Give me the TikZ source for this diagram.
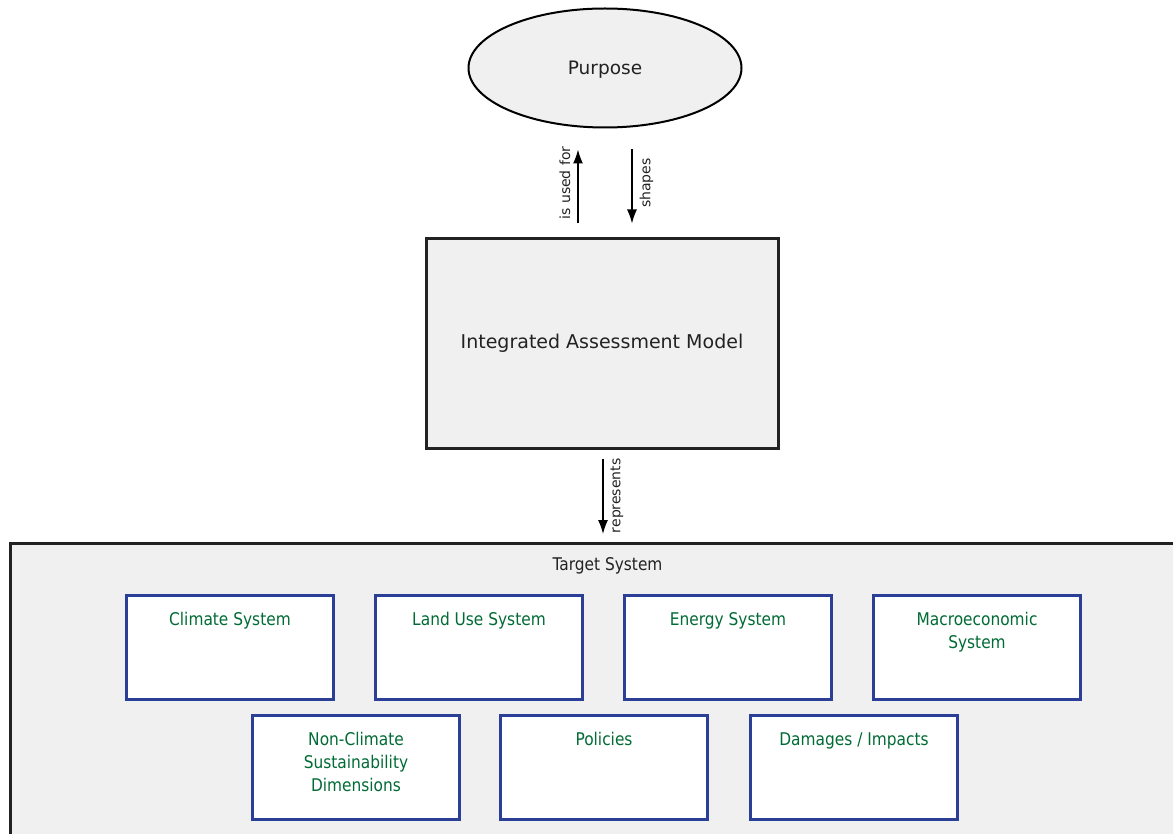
\documentclass[tikz,border=0pt]{standalone}
\usepackage{fontspec}
\setmainfont{DejaVu Sans}
\newfontfamily\narrowfont[FakeStretch=0.88]{DejaVu Sans}
\usetikzlibrary{arrows.meta,shapes.geometric}

\definecolor{panelgray}{HTML}{F0F0F0}
\definecolor{edgedark}{HTML}{222222}
\definecolor{boxblue}{HTML}{2B3F96}
\definecolor{textgreen}{HTML}{006B35}

\tikzset{
  flow/.style={-{Latex[length=14pt,width=10pt]}, line width=1.3pt, black},
  flowlabel/.style={midway, rotate=90, inner sep=7pt, font=\fontsize{14}{16}\selectfont, text=edgedark},
  subsys/.style={draw=boxblue, line width=3pt, fill=white, minimum width=207pt, minimum height=104pt, inner sep=0pt},
  subtext/.style={anchor=north, yshift=-15pt, align=center, text=textgreen, font=\narrowfont\fontsize{17.5}{23}\selectfont}
}

\begin{document}
\begin{tikzpicture}[x=1pt,y=-1pt]
    \useasboundingbox (0,0) rectangle (1173,834);

    % purpose and model
    \node[ellipse, draw=black, line width=2pt, fill=panelgray, minimum width=273pt, minimum height=119pt, inner sep=0pt,
          text depth=0pt, font=\fontsize{18.5}{22}\selectfont, text=edgedark] (purpose) at (605,68) {Purpose};
    \node[draw=edgedark, line width=3pt, fill=panelgray, minimum width=352pt, minimum height=209pt, inner sep=0pt,
          font=\fontsize{19}{22}\selectfont, text=edgedark] (iam) at (602,343.5) {Integrated Assessment Model};

    % target system panel
    \node[draw=edgedark, line width=3pt, fill=panelgray, anchor=north west, minimum width=1194pt, minimum height=310pt,
          label={[anchor=north, yshift=-12pt, text=edgedark, font=\narrowfont\fontsize{17.5}{22}\selectfont]north:Target System}]
          (target) at (9,542) {};

    \node[subsys, label={[subtext]north:Climate System}] (climate) at (230,647.5) {};
    \node[subsys, label={[subtext]north:Land Use System}] (landuse) at (479,647.5) {};
    \node[subsys, label={[subtext]north:Energy System}] (energy) at (728,647.5) {};
    \node[subsys, label={[subtext]north:Macroeconomic\\System}] (macro) at (977,647.5) {};
    \node[subsys, label={[subtext]north:Non-Climate\\Sustainability\\Dimensions}] (sustain) at (356,767.5) {};
    \node[subsys, label={[subtext]north:Policies}] (policies) at (604,767.5) {};
    \node[subsys, label={[subtext]north:Damages / Impacts}] (damages) at (854,767.5) {};

    % relations
    \coordinate (usedx) at (578,0);
    \coordinate (shapex) at (632,0);
    \coordinate (reprx) at (603,0);
    \draw[flow, shorten <=14pt, shorten >=21pt] (iam.north -| usedx) -- (purpose.south -| usedx)
        node[flowlabel, anchor=south] {is used for};
    \draw[flow, shorten <=21pt, shorten >=14pt] (purpose.south -| shapex) -- (iam.north -| shapex)
        node[flowlabel, anchor=north] {shapes};
    \draw[flow, shorten <=9pt, shorten >=8pt] (iam.south -| reprx) -- (target.north -| reprx)
        node[flowlabel, anchor=north] {represents};
\end{tikzpicture}
\end{document}
